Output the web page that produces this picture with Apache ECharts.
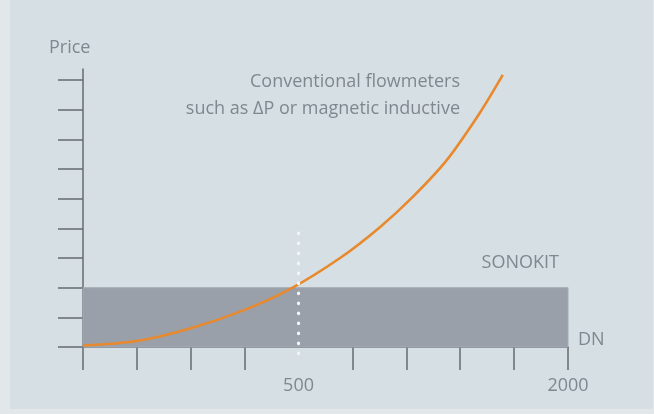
<!DOCTYPE html>
<html>
<head>
<meta charset="utf-8">
<script src="https://cdn.jsdelivr.net/npm/echarts@6/dist/echarts.min.js"></script>
<style>
  html, body { margin: 0; padding: 0; width: 654px; height: 414px; background: #e2e7e9; overflow: hidden; }
  #chart { position: absolute; left: 10px; top: 0; width: 643px; height: 409px; background: #d6dfe3; }
</style>
</head>
<body>
<div id="chart"></div>
<script>
// ---- data ----
var xTicks = [0, 1, 2, 3, 5, 6, 7, 8, 9];
var yTicks = [0, 1, 2, 3, 4, 5, 6, 7, 8, 9];
var xLabelValues = [4, 9];
var xLabelTexts = ['500', '2000'];
var conventionalCurve = [
  [0, 0.05], [1, 0.2], [2, 0.63], [3, 1.25], [3.84, 1.95], [4.77, 3.0],
  [5.51, 4.04], [6.12, 5.06], [6.75, 6.3], [7.36, 7.88], [7.79, 9.17]
];
var sonokitBand = { xFrom: 0, xTo: 9, yFrom: 0, yTo: 2 };
var dn500Marker = [[4, 3.84], [4, -0.5]];
var axisRange = { xMin: 0, xMax: 9, yMin: 0, yMax: 9.37 };

var textColor = '#7f888e';
var axisColor = '#646c71';
var fontFamily = '"Open Sans", "Noto Sans", sans-serif';
var font = '18px ' + fontFamily;

var chart = echarts.init(document.getElementById('chart'));
chart.setOption({
  animation: false,
  grid: { left: 73, right: 85, top: 69, bottom: 62, containLabel: false, outerBoundsMode: 'none' },
  xAxis: {
    type: 'value', min: axisRange.xMin, max: axisRange.xMax,
    axisLine: { show: true, lineStyle: { color: axisColor, width: 1.5 } },
    axisTick: { show: true, inside: false, length: 23, customValues: xTicks, lineStyle: { color: axisColor, width: 1.5 } },
    axisLabel: {
      show: true, customValues: xLabelValues, margin: 30,
      color: textColor, fontSize: 18, fontFamily: fontFamily,
      formatter: function (v) { var i = xLabelValues.indexOf(v); return i >= 0 ? xLabelTexts[i] : ''; }
    },
    splitLine: { show: false }
  },
  yAxis: {
    type: 'value', min: axisRange.yMin, max: axisRange.yMax,
    axisLine: { show: true, lineStyle: { color: axisColor, width: 1.5 } },
    axisTick: { show: true, inside: false, length: 25, customValues: yTicks, lineStyle: { color: axisColor, width: 1.5 } },
    axisLabel: { show: false },
    splitLine: { show: false }
  },
  series: [
    {
      name: 'SONOKIT', type: 'line', data: [], silent: true,
      markArea: {
        silent: true,
        itemStyle: { color: '#99a0aa', borderColor: '#a6acb5', borderWidth: 1 },
        data: [[{ xAxis: sonokitBand.xFrom, yAxis: sonokitBand.yFrom }, { xAxis: sonokitBand.xTo, yAxis: sonokitBand.yTo }]]
      },
      z: 1
    },
    {
      name: 'Conventional', type: 'line', data: conventionalCurve, smooth: 0.3,
      showSymbol: false, symbol: 'none', clip: false,
      lineStyle: { color: '#e8892e', width: 2.6 }, z: 3
    },
    {
      name: 'DN500', type: 'line', data: dn500Marker, showSymbol: false, symbol: 'none', clip: false,
      lineStyle: { color: '#f4f7f8', width: 3.2, type: [0.5, 9.5], cap: 'round' }, z: 4
    }
  ],
  graphic: [
    { type: 'text', style: { text: 'Price', x: 39, y: 48, textAlign: 'left', textVerticalAlign: 'middle', fill: textColor, font: font } },
    { type: 'text', style: { text: 'Conventional flowmeters', x: 450, y: 82, textAlign: 'right', textVerticalAlign: 'middle', fill: textColor, font: font } },
    { type: 'text', style: { text: 'such as \u0394P or magnetic inductive', x: 450, y: 109, textAlign: 'right', textVerticalAlign: 'middle', fill: textColor, font: font } },
    { type: 'text', style: { text: 'SONOKIT', x: 549, y: 263, textAlign: 'right', textVerticalAlign: 'middle', fill: textColor, font: font } },
    { type: 'text', style: { text: 'DN', x: 568, y: 340, textAlign: 'left', textVerticalAlign: 'middle', fill: textColor, font: font } }
  ]
});
</script>
</body>
</html>
